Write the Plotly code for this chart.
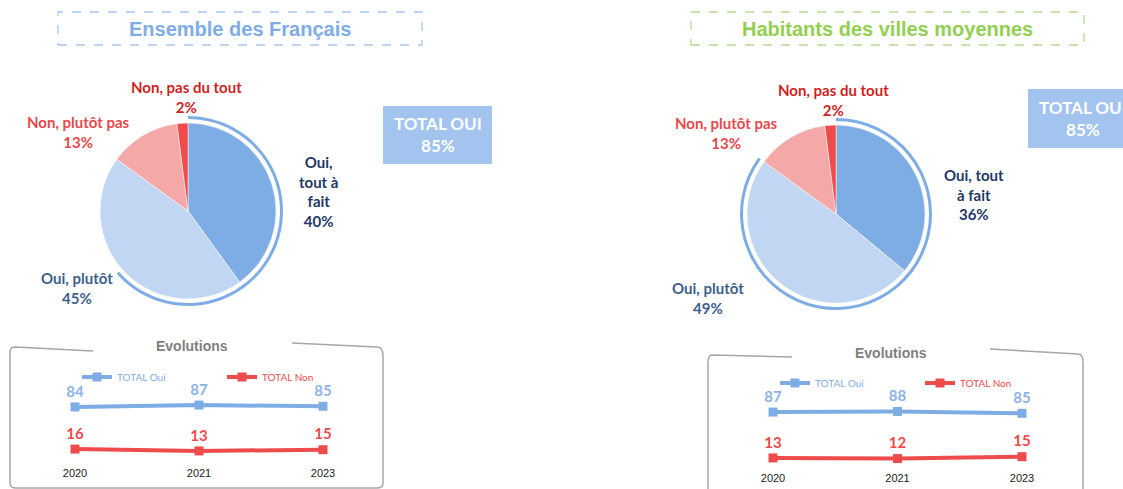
import plotly.graph_objects as go

W, H = 1123, 489

# ---------------- data ----------------
pie_categories = ["Oui, tout à fait", "Oui, plutôt", "Non, plutôt pas", "Non, pas du tout"]
pie_values_ensemble = [40, 45, 13, 2]
pie_values_villes = [36, 49, 13, 2]

panel_titles = ["Ensemble des Français", "Habitants des villes moyennes"]

evo_years = ["2020", "2021", "2023"]
evo_oui_ensemble = [84, 87, 85]
evo_non_ensemble = [16, 13, 15]
evo_oui_villes = [87, 88, 85]
evo_non_villes = [13, 12, 15]
evo_series_names = ["TOTAL Oui", "TOTAL Non"]

# ---------------- styles ----------------
C_OUI_TAF = "#7eade5"
C_OUI_PL = "#c0d6f2"
C_NON_PL = "#f5a8a8"
C_NON_PDT = "#ef4b4b"
C_LINE_BLUE = "#7eade5"
C_LINE_RED = "#ee4b4d"
LABEL_COLORS = ["#1f3864", "#3d5f8c", "#e8474b", "#d01f1f"]
LBL_FONT = "Lato"


def fx(x):
    return x / W


def fy(y):
    return 1 - y / H


fig = go.Figure()

panels = [
    dict(values=pie_values_ensemble, cx=188, cy=211, r=88, arc_r=95, arc_t=3, arc_share=0.635,
         title_box=(58, 12, 422, 45), title_color="#7eade5", box_color="#a8c8ee",
         lbl_pos=[(318, 192), (77, 288), (78, 132), (186, 97)],
         lbl_lines=[["Oui,", "tout à", "fait"], ["Oui, plutôt"], ["Non, plutôt pas"], ["Non, pas du tout"]],
         total_box=(383, 106, 492, 164),
         oui=evo_oui_ensemble, non=evo_non_ensemble,
         evo_x=(75, 323), evo_y=(397, 459), legend_xy=(77, 377), standoff=6,
         frame=[(10, 352), (15, 347), (93, 351), (292, 343), (377, 347), (383, 356), (383, 483), (377, 488), (16, 488), (10, 483)],
         evo_title=(192, 346)),
    dict(values=pie_values_villes, cx=836, cy=214, r=89, arc_r=96, arc_t=3, arc_share=0.85,
         title_box=(691, 12, 1084, 45), title_color="#92d050", box_color="#b4dc90",
         lbl_pos=[(974, 195), (708, 298), (726, 133), (833, 100)],
         lbl_lines=[["Oui, tout", "à fait"], ["Oui, plutôt"], ["Non, plutôt pas"], ["Non, pas du tout"]],
         total_box=(1028, 89, 1137, 148),
         oui=evo_oui_villes, non=evo_non_villes,
         evo_x=(773, 1022), evo_y=(404, 466), legend_xy=(775, 383), standoff=4,
         frame=[(708, 363), (712, 355), (792, 357), (990, 349), (1078, 354), (1083, 362), (1083, 495), None, None, (708, 495)],
         evo_title=(891, 353)),
]

shapes = []
annotations = []


def ann(x, y, text, font, **kw):
    d = dict(x=fx(x), y=fy(y), xref="paper", yref="paper", showarrow=False, text=text,
             xanchor="center", yanchor="middle", font=font)
    d.update(kw)
    return d


for i, p in enumerate(panels):
    vals = p["values"]
    cx, cy, r = p["cx"], p["cy"], p["r"]
    # main pie
    fig.add_trace(go.Pie(
        labels=pie_categories, values=vals, sort=False, direction="clockwise", rotation=0,
        marker=dict(colors=[C_OUI_TAF, C_OUI_PL, C_NON_PL, C_NON_PDT], line=dict(color="white", width=0.5)),
        textinfo="none", hoverinfo="label+percent", showlegend=False,
        domain=dict(x=[fx(cx - r), fx(cx + r)], y=[fy(cy + r), fy(cy - r)]),
    ))
    # "total oui" arc
    R = p["arc_r"]
    share = p["arc_share"]
    fig.add_trace(go.Pie(
        values=[share, 1 - share], labels=["arc", "gap"], sort=False, direction="clockwise", rotation=0,
        hole=(R - p["arc_t"]) / R,
        marker=dict(colors=[C_OUI_TAF, "rgba(0,0,0,0)"], line=dict(width=0)),
        textinfo="none", hoverinfo="skip", showlegend=False,
        domain=dict(x=[fx(cx - R), fx(cx + R)], y=[fy(cy + R), fy(cy - R)]),
    ))
    # slice labels
    for k, cat in enumerate(pie_categories):
        lines = p["lbl_lines"][k] + [f"{vals[k]}%"]
        lx, ly = p["lbl_pos"][k]
        annotations.append(ann(lx, ly, "<br>".join(lines),
                               dict(family=LBL_FONT, size=15, color=LABEL_COLORS[k], weight="bold"),
                               align="center"))
    # title box
    x0, y0, x1, y1 = p["title_box"]
    shapes.append(dict(type="rect", xref="paper", yref="paper", x0=fx(x0), x1=fx(x1), y0=fy(y1), y1=fy(y0),
                       line=dict(color=p["box_color"], width=1.3, dash="dash"), fillcolor="rgba(0,0,0,0)"))
    annotations.append(ann((x0 + x1) / 2, 29.5, panel_titles[i],
                           dict(family="Liberation Sans", size=20, color=p["title_color"], weight="bold")))
    # total oui box
    tx0, ty0, tx1, ty1 = p["total_box"]
    total_oui = vals[0] + vals[1]
    shapes.append(dict(type="rect", xref="paper", yref="paper", x0=fx(tx0), x1=fx(tx1), y0=fy(ty1), y1=fy(ty0),
                       line=dict(width=0), fillcolor="#a3c4ee", layer="below"))
    annotations.append(ann((tx0 + tx1) / 2, (ty0 + ty1) / 2, f"TOTAL OUI<br>{total_oui}%",
                           dict(family=LBL_FONT, size=17, color="white", weight="bold")))
    # hand-drawn evolution frame
    pts = p["frame"]
    P = lambda q: f"{fx(q[0])},{fy(q[1])}"
    path = (f"M {P(pts[0])} Q {fx(pts[0][0])},{fy(pts[1][1])} {P(pts[1])} L {P(pts[2])} "
            f"M {P(pts[3])} L {P(pts[4])} Q {fx(pts[5][0])},{fy(pts[4][1])} {P(pts[5])} L {P(pts[6])} ")
    if pts[7] is None:
        path += f"M {P(pts[0])} L {P(pts[9])}"
    else:
        path += (f"Q {fx(pts[6][0])},{fy(pts[7][1])} {P(pts[7])} L {P(pts[8])} "
                 f"Q {fx(pts[9][0])},{fy(pts[8][1])} {P(pts[9])} L {P(pts[0])}")
    shapes.append(dict(type="path", xref="paper", yref="paper", path=path,
                       line=dict(color="#a6a6a6", width=1.5)))
    etx, ety = p["evo_title"]
    annotations.append(ann(etx, ety, "Evolutions",
                           dict(family="Liberation Sans", size=14, color="#7f7f7f", weight="bold")))

    # evolution line chart
    ax = "" if i == 0 else "2"
    lg = "legend" if i == 0 else "legend2"
    ex0, ex1 = p["evo_x"]
    step = (ex1 - ex0) / 2
    ey0, ey1 = p["evo_y"]
    for name, series, col in [(evo_series_names[0], p["oui"], C_LINE_BLUE), (evo_series_names[1], p["non"], C_LINE_RED)]:
        fig.add_trace(go.Scatter(
            x=evo_years, y=series, mode="lines+markers+text", xaxis="x" + ax, yaxis="y" + ax,
            name=f"<span style='color:{col}'>{name}</span>", legend=lg,
            line=dict(color=col, width=4), marker=dict(symbol="square", size=9, color=col),
            text=[str(v) for v in series], textposition="top center",
            textfont=dict(family=LBL_FONT, size=15, color=("#8db3e8" if col == C_LINE_BLUE else "#ef4b4b"),
                          weight="bold"),
            cliponaxis=False,
        ))
    fig.update_layout(**{
        "xaxis" + ax: dict(domain=[fx(ex0 - step / 2), fx(ex1 + step / 2)], type="category", range=[-0.5, 2.5],
                           showgrid=False, zeroline=False, showline=False, ticks="",
                           ticklabelstandoff=p["standoff"],
                           tickfont=dict(family="Liberation Sans", size=11, color="#1a1a1a"),
                           anchor="y" + ax, fixedrange=True),
        "yaxis" + ax: dict(domain=[fy(ey1), fy(ey0)], range=[0, 100], visible=False, anchor="x" + ax,
                           fixedrange=True),
    })
    lx, ly = p["legend_xy"]
    fig.update_layout(**{lg: dict(x=fx(lx), y=fy(ly), xanchor="left", yanchor="middle", orientation="h",
                                  bgcolor="rgba(0,0,0,0)", entrywidth=100, itemwidth=30,
                                  font=dict(family=LBL_FONT, size=10), tracegroupgap=0)})

fig.update_layout(
    width=W, height=H, margin=dict(l=0, r=0, t=0, b=0),
    paper_bgcolor="white", plot_bgcolor="rgba(0,0,0,0)",
    shapes=shapes, annotations=annotations, showlegend=True,
)

fig.write_html("out.html")
